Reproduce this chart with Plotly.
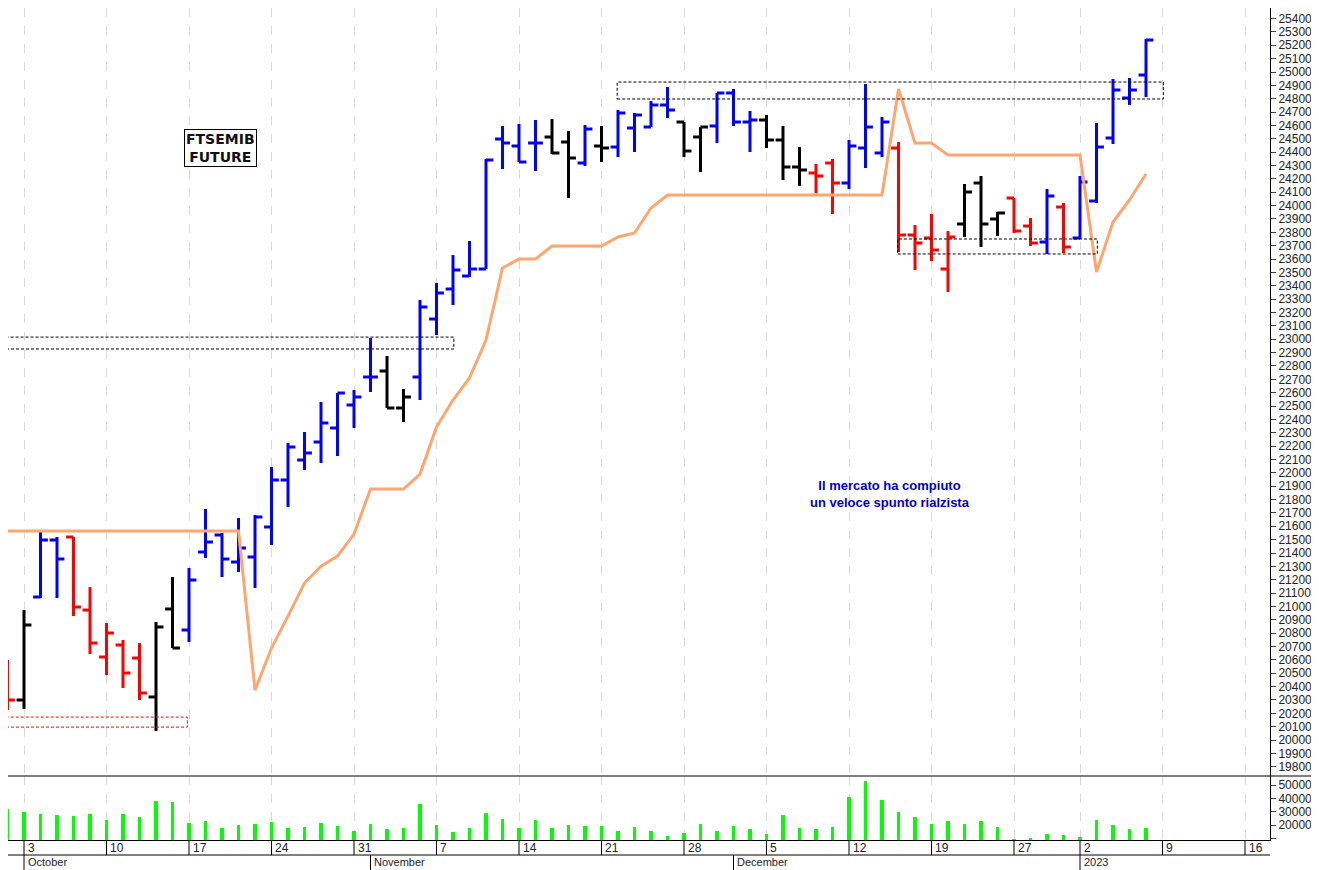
import plotly.graph_objects as go
from plotly.subplots import make_subplots

# trading-day index: 0 = 3 Oct 2022, 64 = 2 Jan 2023 (26 Dec closed)
idx = list(range(-1, 69))
opens = [20300, 20300, 21070, 21497, 21520, 20973, 20621, 20711, 20614, 20322, 20980,
         20823, 21407, 21534, 21332, 21370, 21594, 21946, 22096, 22230, 22335, 22507,
         22717, 22762, 22485, 22717, 23151, 23376, 23473, 23525, 24498, 24446, 24469,
         24513, 24476, 24319, 24446, 24438, 24581, 24588, 24753, 24626, 24513, 24596,
         24843, 24626, 24641, 24491, 24289, 24244, 24319, 24169, 24431, 24394, 24431,
         23780, 23757, 23525, 23862, 24169, 23900, 24057, 23847, 23727, 23990, 23757,
         24035, 24506, 24805, 24978]
highs = [20599, 20973, 21572, 21520, 21520, 21145, 20876, 20749, 20726, 20883, 21220,
         21287, 21729, 21549, 21662, 21684, 22043, 22223, 22305, 22530, 22597, 22620,
         23009, 22874, 22627, 23293, 23421, 23630, 23735, 24349, 24596, 24611, 24641,
         24648, 24558, 24603, 24596, 24716, 24693, 24783, 24888, 24626, 24588, 24843,
         24873, 24708, 24678, 24596, 24439, 24311, 24349, 24491, 24910, 24663, 24476,
         23855, 23937, 23810, 24162, 24222, 23952, 24057, 23907, 24124, 24020, 24222,
         24618, 24948, 24955, 25247]
lows = [20225, 20232, 21063, 21063, 20928, 20644, 20487, 20389, 20300, 20067, 20689,
        20734, 21362, 21220, 21258, 21138, 21460, 21744, 22021, 22073, 22126, 22335,
        22605, 22485, 22380, 22545, 23031, 23256, 23466, 23525, 24274, 24326, 24259,
        24386, 24057, 24296, 24326, 24364, 24401, 24588, 24656, 24364, 24252, 24469,
        24596, 24401, 24431, 24192, 24147, 24094, 23937, 24124, 24281, 24364, 23653,
        23518, 23585, 23353, 23765, 23690, 23772, 23795, 23698, 23638, 23645, 23750,
        24020, 24461, 24753, 24813]
closes = [20300, 20861, 21497, 21355, 20995, 20726, 20801, 20501, 20352, 20846, 20689,
          21198, 21482, 21355, 21437, 21669, 21946, 22193, 22148, 22373, 22597, 22567,
          22717, 22485, 22567, 23241, 23346, 23518, 23525, 24341, 24469, 24326, 24469,
          24394, 24356, 24573, 24431, 24693, 24678, 24753, 24716, 24409, 24588, 24843,
          24626, 24641, 24491, 24289, 24266, 24222, 24169, 24446, 24588, 24626, 23780,
          23720, 23668, 23765, 24102, 23862, 23945, 23810, 23720, 24072, 23690, 24177,
          24439, 24865, 24865, 25240]
bar_color = (["red", "black", "blue", "blue"] + ["red"] * 5 + ["black"] * 2 + ["blue"] * 12
             + ["black"] * 2 + ["blue"] * 8 + ["black"] * 2 + ["blue", "black"] + ["blue"] * 4
             + ["black"] * 2 + ["blue"] * 3 + ["black"] * 3 + ["red"] * 2 + ["blue"] * 3
             + ["red"] * 4 + ["black"] * 3 + ["red"] * 2 + ["blue", "red"] + ["blue"] * 5)
volume = [31800, 30000, 28200, 27500, 26500, 28200, 23700, 28200, 25700, 38200, 37500,
          21700, 23000, 18000, 20000, 20700, 22200, 17500, 18200, 21500, 19200, 15200,
          20700, 17200, 18000, 35500, 20000, 14500, 18000, 28700, 24500, 18000, 23700,
          17500, 20000, 19200, 19200, 15700, 18200, 15700, 12000, 14300, 20500, 15700,
          19200, 16700, 13000, 27500, 17500, 16700, 18200, 41200, 53200, 38700, 29500,
          25700, 20700, 23000, 20700, 23000, 18700, 9500, 10300, 13200, 12500, 10700,
          23700, 20000, 16700, 17500]

stop_x = [-1.5] + list(range(-1, 69))
stop_y = ([21617] + [21564] * 15 + [20374, 20689, 20928, 21175, 21302, 21377, 21542,
          21879, 21879, 21879, 21991, 22343, 22545, 22710, 22994, 23533, 23600, 23600,
          23698, 23698, 23698, 23698, 23765, 23795, 23982] + [24079] * 14
          + [24873, 24469, 24469] + [24379] * 9 + [23503, 23877, 24042, 24237])

week_pos = [0, 5, 10, 15, 20, 25, 30, 35, 40, 45, 50, 55, 60, 64, 69, 74]
week_lbl = ["3", "10", "17", "24", "31", "7", "14", "21", "28", "5", "12", "19", "27", "2", "9", "16"]
month_pos = [0, 21, 43, 64]
month_lbl = ["October", "November", "December", "2023"]

boxes = [(-2, 26.05, 22927, 23016, "black"), (-2, 9.9, 20097, 20172, "red"),
         (35.95, 69.05, 24798, 24925, "black"), (52.95, 65.05, 23638, 23750, "black")]

fig = make_subplots(rows=2, cols=1, shared_xaxes=True, vertical_spacing=0,
                    row_heights=[768 / 832, 64 / 832])

for col in ["blue", "black", "red"]:
    sel = [i for i, c in enumerate(bar_color) if c == col]
    fig.add_trace(go.Ohlc(
        x=[idx[i] for i in sel], open=[opens[i] for i in sel], high=[highs[i] for i in sel],
        low=[lows[i] for i in sel], close=[closes[i] for i in sel], tickwidth=0.45,
        increasing=dict(line=dict(color=col, width=3)),
        decreasing=dict(line=dict(color=col, width=3)), showlegend=False), row=1, col=1)

fig.add_trace(go.Scatter(x=stop_x, y=stop_y, mode="lines", line=dict(color="#ffa66e", width=3),
                         showlegend=False), row=1, col=1)
fig.add_trace(go.Bar(x=idx, y=volume, base=0, width=0.2, marker=dict(color="#00ff00", line_width=0),
                     showlegend=False), row=2, col=1)

for x0, x1, y0, y1, c in boxes:
    fig.add_shape(type="rect", x0=x0, x1=x1, y0=y0, y1=y1, xref="x", yref="y",
                  line=dict(color=c, width=1, dash="3px,2px"))

H = 832.0
W = 1262.0
for p, t in zip(week_pos, week_lbl):
    fig.add_annotation(x=p + 0.1, y=-8 / H, xref="x", yref="paper", text=t, showarrow=False,
                       xanchor="left", yanchor="middle", font=dict(size=12, color="#222"))
    fig.add_shape(type="line", x0=p, x1=p, y0=0, y1=-15 / H, xref="x", yref="paper",
                  line=dict(color="black", width=1))
for p, t in zip(month_pos, month_lbl):
    fig.add_annotation(x=p + 0.1, y=-22 / H, xref="x", yref="paper", text=t, showarrow=False,
                       xanchor="left", yanchor="middle", font=dict(size=11, color="#222"))
    fig.add_shape(type="line", x0=p, x1=p, y0=-15 / H, y1=-30 / H, xref="x", yref="paper",
                  line=dict(color="black", width=1))
fig.add_shape(type="line", x0=0, x1=1, y0=-15 / H, y1=-15 / H, xref="paper", yref="paper",
              line=dict(color="black", width=1))
fig.add_shape(type="line", x0=0, x1=1311 / W, y0=64 / H, y1=64 / H, xref="paper", yref="paper",
              line=dict(color="black", width=1))

fig.add_annotation(x=212 / W, y=(H - 140) / H, xref="paper", yref="paper",
                   text="<b>FTSEMIB<br>FUTURE</b>", showarrow=False, bgcolor="white",
                   bordercolor="black", borderwidth=1, borderpad=1,
                   xanchor="center", yanchor="middle",
                   font=dict(size=14, color="#111", family="DejaVu Sans"))
fig.add_annotation(x=882 / W, y=(H - 486) / H, xref="paper", yref="paper",
                   text="<b>Il mercato ha compiuto<br>un veloce spunto rialzista</b>",
                   showarrow=False, xanchor="center", yanchor="middle",
                   font=dict(size=13, color="#0000cc"))

xr = [-0.97, 75.515]
fig.update_xaxes(range=xr, tickvals=week_pos, showticklabels=False, showgrid=True,
                 gridcolor="#d8d8d8", griddash="dash", gridwidth=1, zeroline=False,
                 rangeslider_visible=False, showline=False, ticks="", automargin=False)
fig.update_xaxes(showline=True, linecolor="black", row=2, col=1)
fig.update_yaxes(side="right", range=[19731, 25479], dtick=100, tick0=0, ticks="outside",
                 ticklen=5, showgrid=False, zeroline=False, showline=True, linecolor="black",
                 tickformat="d", automargin=False,
                 tickfont=dict(size=12, color="#222"), row=1, col=1)
fig.update_yaxes(side="right", range=[8750, 56750], tickvals=[10000, 20000, 30000, 40000, 50000],
                 ticktext=["", "20000", "30000", "40000", "50000"], ticks="outside", ticklen=5,
                 showgrid=False, zeroline=False, showline=True, linecolor="black", automargin=False,
                 tickfont=dict(size=12, color="#222"), row=2, col=1)

fig.update_layout(width=1311, height=862, margin=dict(l=0, r=49, t=0, b=30),
                  plot_bgcolor="white", paper_bgcolor="white", bargap=0,
                  font=dict(family="Liberation Sans", size=11), showlegend=False)
fig.write_html("out.html")
